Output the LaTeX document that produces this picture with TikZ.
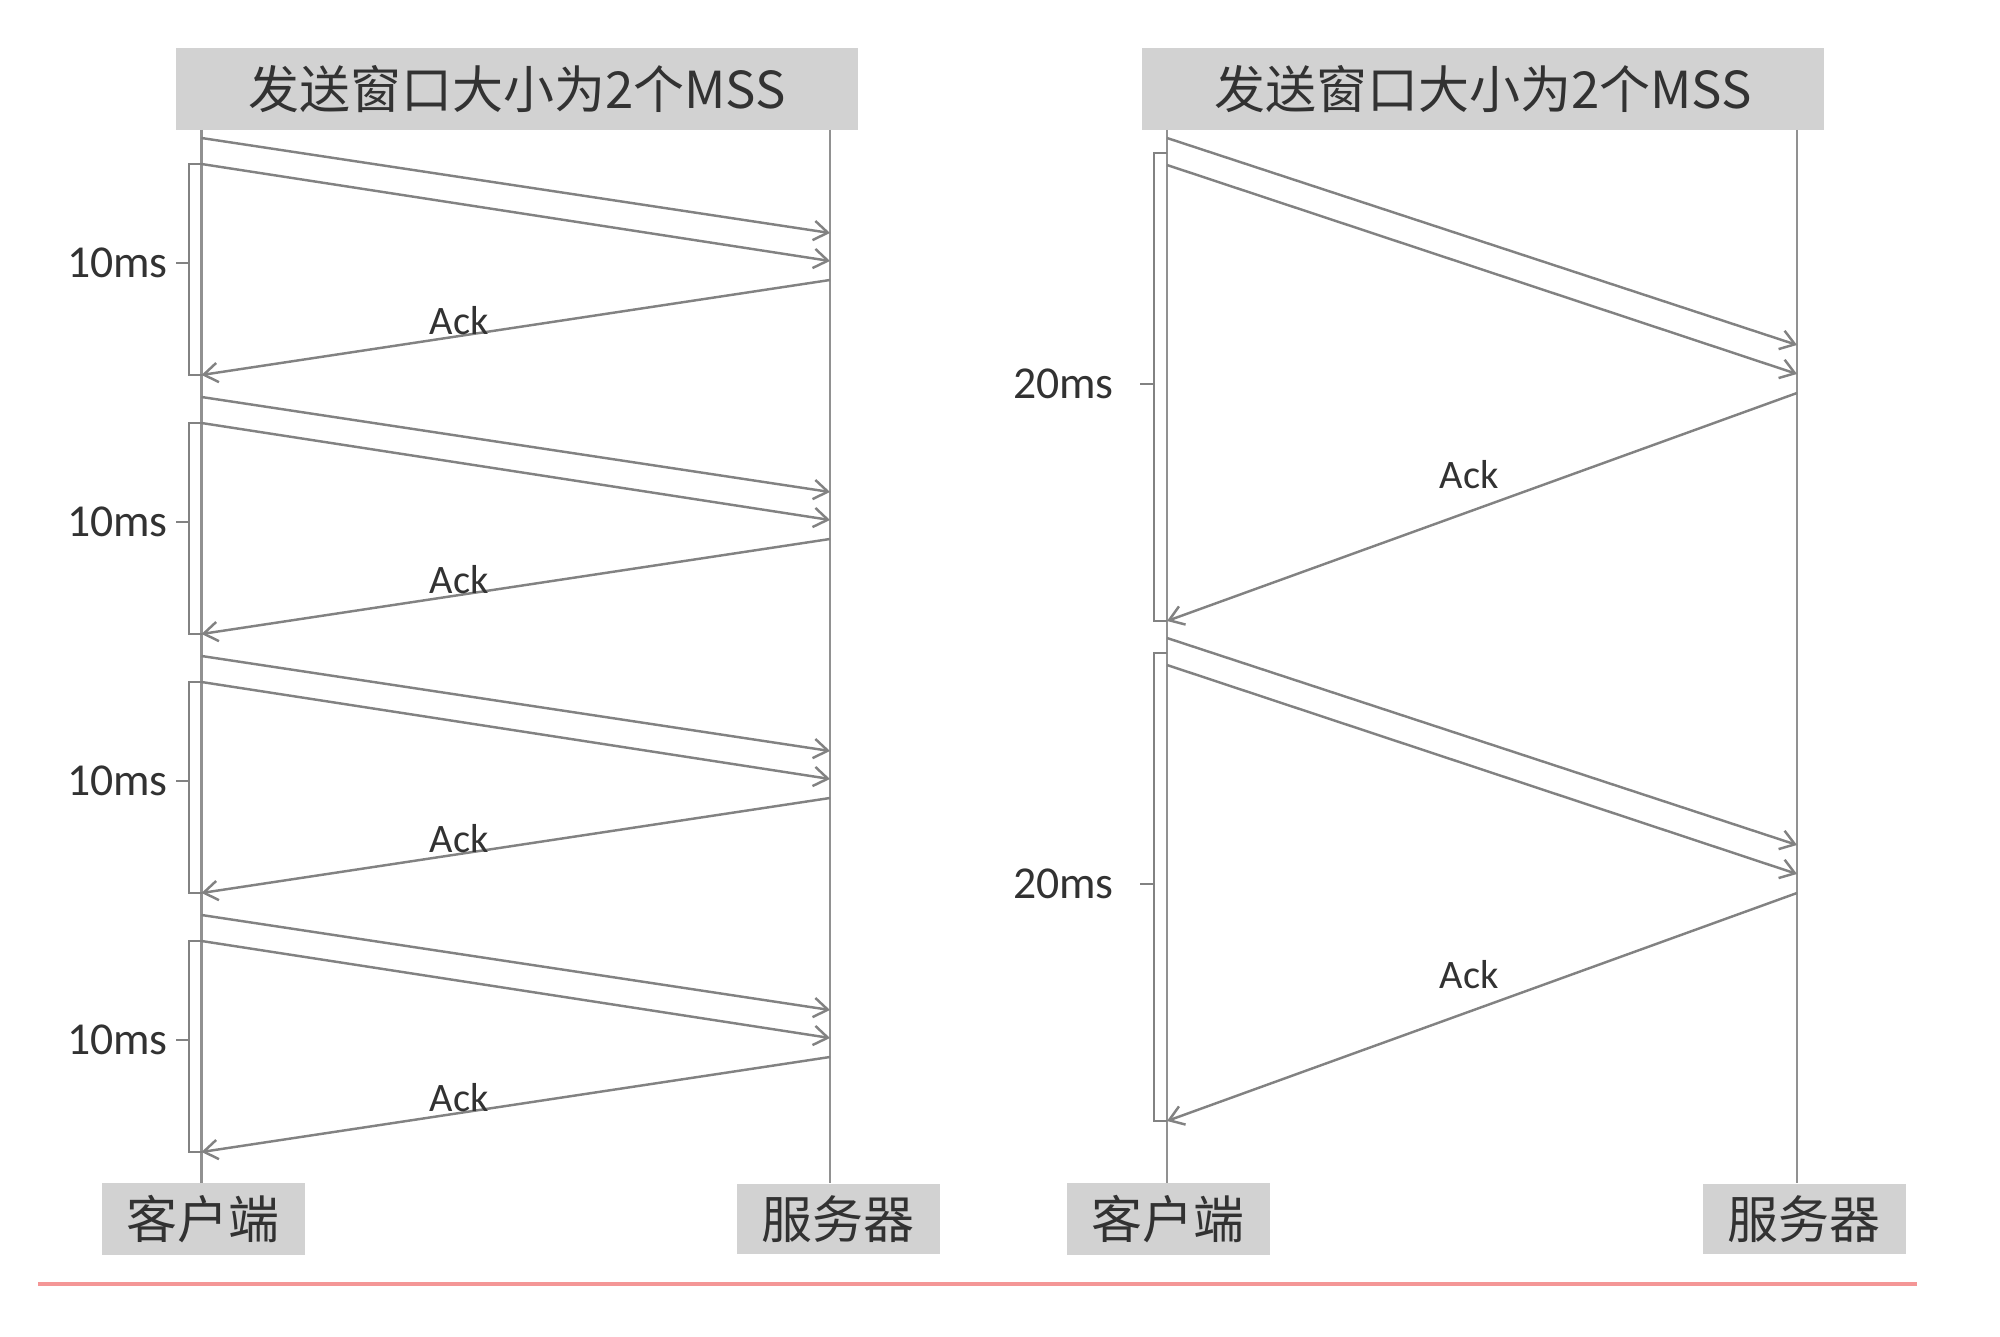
\documentclass[tikz,border=0pt]{standalone}
\usepackage{xcolor}
\usepackage{fontspec}
\setmainfont{Carlito}
\newfontfamily\cjkfont{Noto Sans CJK SC}
\usepackage{tikz}
\usetikzlibrary{arrows.meta}

\definecolor{linegray}{RGB}{130,130,130}
\definecolor{lifegray}{RGB}{145,145,145}
\definecolor{boxgray}{RGB}{210,210,210}
\definecolor{txtgray}{RGB}{50,50,50}
\definecolor{rulered}{RGB}{244,150,150}

\tikzset{
    hdrbox/.style={fill=boxgray, text=txtgray, minimum width=6.82cm, minimum height=0.82cm,
        font=\cjkfont\fontsize{14.5}{17}\selectfont},
    endbox/.style={fill=boxgray, text=txtgray, minimum width=2.03cm, minimum height=0.70cm,
        font=\cjkfont\fontsize{14.5}{17}\selectfont},
    life/.style={draw=lifegray, line width=0.6pt},
    msg/.style={draw=linegray, line width=0.7pt, ->},
    brk/.style={draw=linegray, line width=0.7pt},
    acklbl/.style={anchor=south, inner sep=0pt, text=txtgray, font=\fontsize{11.5}{13}\selectfont},
    tlbl/.style={left, inner sep=2pt, text=txtgray, font=\fontsize{13}{15}\selectfont}
}

\begin{document}
\begin{tikzpicture}[>={Straight Barb[length=4pt,width=5.5pt]}]
                \useasboundingbox (0,0) rectangle (20,-13.37);
                \node[hdrbox] (hdrL) at (5.17,-0.89) {发送窗口大小为2个MSS};
                \node[hdrbox] (hdrR) at (14.83,-0.89) {发送窗口大小为2个MSS};
                \node[endbox] (cliL) at (2.03,-12.19) {客户端};
                \node[endbox] (srvL) at (8.38,-12.19) {服务器};
                \node[endbox] (cliR) at (11.68,-12.19) {客户端};
                \node[endbox] (srvR) at (18.04,-12.19) {服务器};
                \coordinate (cL) at (2.015,-1.30);
                \coordinate (sL) at (8.30,-1.30);
                \coordinate (cR) at (11.67,-1.30);
                \coordinate (sR) at (17.97,-1.30);
                \draw[life] (cL) -- (cL |- cliL.north);
                \draw[life] (sL) -- (sL |- srvL.north);
                \draw[life] (cR) -- (cR |- cliR.north);
                \draw[life] (sR) -- (sR |- srvR.north);
                \foreach \i in {1,...,4}{
                    \pgfmathsetmacro{\b}{-1.38-2.59*(\i-1)}
                    \coordinate (lc\i-1) at (2.015,\b);
                    \coordinate (ls\i-1) at (8.30,\b-0.95);
                    \coordinate (lc\i-2) at (2.015,\b-0.26);
                    \coordinate (ls\i-2) at (8.30,\b-1.23);
                    \coordinate (ls\i-3) at (8.30,\b-1.42);
                    \coordinate (lc\i-3) at (2.015,\b-2.37);
                    \coordinate (lb\i-t) at (1.89,\b-0.26);
                    \coordinate (lb\i-b) at (1.89,\b-2.37);
                    \coordinate (lt\i) at (1.89,\b-1.25);
                    \draw[msg] (lc\i-1) -- (ls\i-1);
                    \draw[msg] (lc\i-2) -- (ls\i-2);
                    \draw[msg] (ls\i-3) -- node[acklbl,pos=0.59] (lack\i) {Ack} (lc\i-3);
                    \draw[brk] (lc\i-2) -- (lb\i-t) -- (lb\i-b) -- (lc\i-3);
                    \draw[brk] (lt\i) -- ++(-0.13,0) node[tlbl] (lms\i) {10ms};
                }
                \foreach \i in {1,2}{
                    \pgfmathsetmacro{\b}{-1.38-5.0*(\i-1)}
                    \coordinate (rc\i-1) at (11.67,\b);
                    \coordinate (rs\i-1) at (17.97,\b-2.07);
                    \coordinate (rc\i-2) at (11.67,\b-0.27);
                    \coordinate (rs\i-2) at (17.97,\b-2.36);
                    \coordinate (rs\i-3) at (17.97,\b-2.55);
                    \coordinate (rc\i-3) at (11.67,\b-4.83);
                    \coordinate (rb\i-t0) at (11.67,\b-0.15);
                    \coordinate (rb\i-t) at (11.54,\b-0.15);
                    \coordinate (rb\i-b) at (11.54,\b-4.83);
                    \coordinate (rt\i) at (11.54,\b-2.46);
                    \draw[msg] (rc\i-1) -- (rs\i-1);
                    \draw[msg] (rc\i-2) -- (rs\i-2);
                    \draw[msg] (rs\i-3) -- node[acklbl,pos=0.52,yshift=0.22cm] (rack\i) {Ack} (rc\i-3);
                    \draw[brk] (rb\i-t0) -- (rb\i-t) -- (rb\i-b) -- (rc\i-3);
                    \draw[brk] (rt\i) -- ++(-0.14,0) node[tlbl,xshift=-0.18cm] (rms\i) {20ms};
                }
                \draw[rulered, line width=1pt] (0.38,-12.84) -- (19.17,-12.84);
            \end{tikzpicture}
\end{document}
